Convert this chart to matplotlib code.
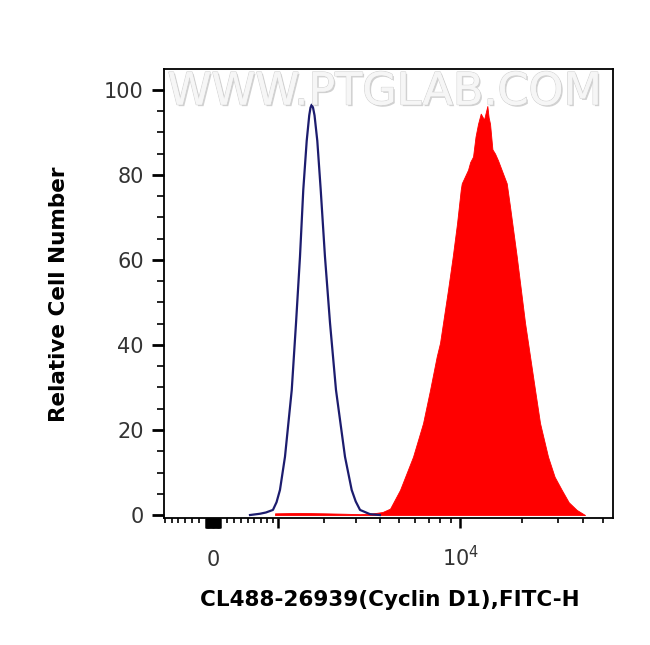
import numpy as np
import matplotlib.pyplot as plt
import matplotlib.patheffects as pe

# isotype control (blue outline), FITC-H intensity vs relative count
ctrl_x = [535, 691, 789, 907, 970, 1032, 1125, 1256, 1343, 1426, 1497, 1573, 1631, 1660,
          1688, 1720, 1756, 1824, 1910, 2021, 2159, 2332, 2612, 2837, 2980, 3141, 3540, 3980]
ctrl_y = [0, 0.3, 0.6, 1.2, 3.0, 5.9, 13.7, 29.4, 45.2, 60.8, 76.5, 88, 94, 95.8,
          96.5, 95.8, 94, 88, 76.5, 60.8, 45.2, 29.4, 13.7, 5.9, 3.2, 1.2, 0.2, 0]

# Cyclin D1 stained sample (red filled)
cyc_x = [943, 1426, 2021, 2612, 3141, 3670, 4100, 4482, 5032, 5846, 6558, 7104, 7667, 7961,
         8237, 8718, 9196, 9655, 10068, 10184, 10936, 11200, 11571, 11900, 12243, 12623,
         13100, 13598, 13800, 14020, 14400, 14832, 15342, 16922, 17564, 18941, 20795,
         23273, 24620, 26937, 29000, 31428, 34000, 37195, 40836]
cyc_y = [0.4, 0.5, 0.4, 0.3, 0.2, 0.4, 0.7, 1.5, 5.9, 13.7, 21.6, 29.4, 37.3, 40.5,
         45.2, 53, 60.8, 68.6, 76.5, 78, 81.2, 83, 84.3, 89, 92, 94.4,
         93, 96.2, 93.5, 92, 86, 85, 83.4, 78, 72.5, 60.8, 45.2,
         29.4, 21.6, 13.7, 9.0, 5.9, 3.0, 1.2, 0]

y_ticks = [0, 20, 40, 60, 80, 100]
x_major = list(range(-100, 101, 10)) + [1000, 10000]
x_labels = {0: '0', 10000: '$10^4$'}
x_minor = (list(range(-700, -199, 100)) + list(range(200, 901, 100))
           + list(range(2000, 9001, 1000)) + list(range(20000, 50001, 10000)))

fig = plt.figure(figsize=(6.5, 6.45), dpi=100)
ax = fig.add_axes([164 / 650, 1 - 518 / 645, 449 / 650, 449 / 645])
ax.set_xscale('asinh', linear_width=1250)

ax.fill_between(cyc_x, cyc_y, 0, color='#ff0000', lw=0.6, zorder=2)
ax.plot(ctrl_x, ctrl_y, color='#1c1c6e', lw=1.6, zorder=3)

ax.set_xlim(-723, 55900)
ax.set_ylim(-0.7, 104.9)

ax.set_yticks(y_ticks)
ax.set_yticks(np.arange(5, 105, 5), minor=True)
ax.set_xticks(x_major)
ax.set_xticklabels([x_labels.get(v, '') for v in x_major])
ax.set_xticks(x_minor, minor=True)

ax.tick_params(axis='y', which='major', length=8.5, width=2, labelsize=15, pad=6, labelcolor='#333333')
ax.tick_params(axis='y', which='minor', length=5, width=1.2)
ax.tick_params(axis='x', which='major', length=7.5, width=1.8, labelsize=15, pad=27, labelcolor='#333333')
ax.tick_params(axis='x', which='minor', length=3.8, width=1.2)
plt.setp(ax.get_xticklabels(), va='baseline')

for s in ax.spines.values():
    s.set_linewidth(1.3)

fig.text(385 / 650, 1 - 92 / 645, 'WWW.PTGLAB.COM', fontsize=32, color='#f6f6f6',
         ha='center', va='center', zorder=5,
         path_effects=[pe.withSimplePatchShadow(offset=(1.2, -1.2), shadow_rgbFace='#9a9a9a', alpha=0.45),
                       pe.withStroke(linewidth=1.0, foreground='#d4d4d4'),
                       pe.Normal()])

fig.text(59 / 650, 1 - 294 / 645, 'Relative Cell Number', rotation=90, fontsize=15.5,
         fontweight='bold', ha='center', va='center')
fig.text(390 / 650, 1 - 600 / 645, 'CL488-26939(Cyclin D1),FITC-H', fontsize=15.5,
         fontweight='bold', ha='center', va='center')

fig.savefig('out.png', dpi=100)
